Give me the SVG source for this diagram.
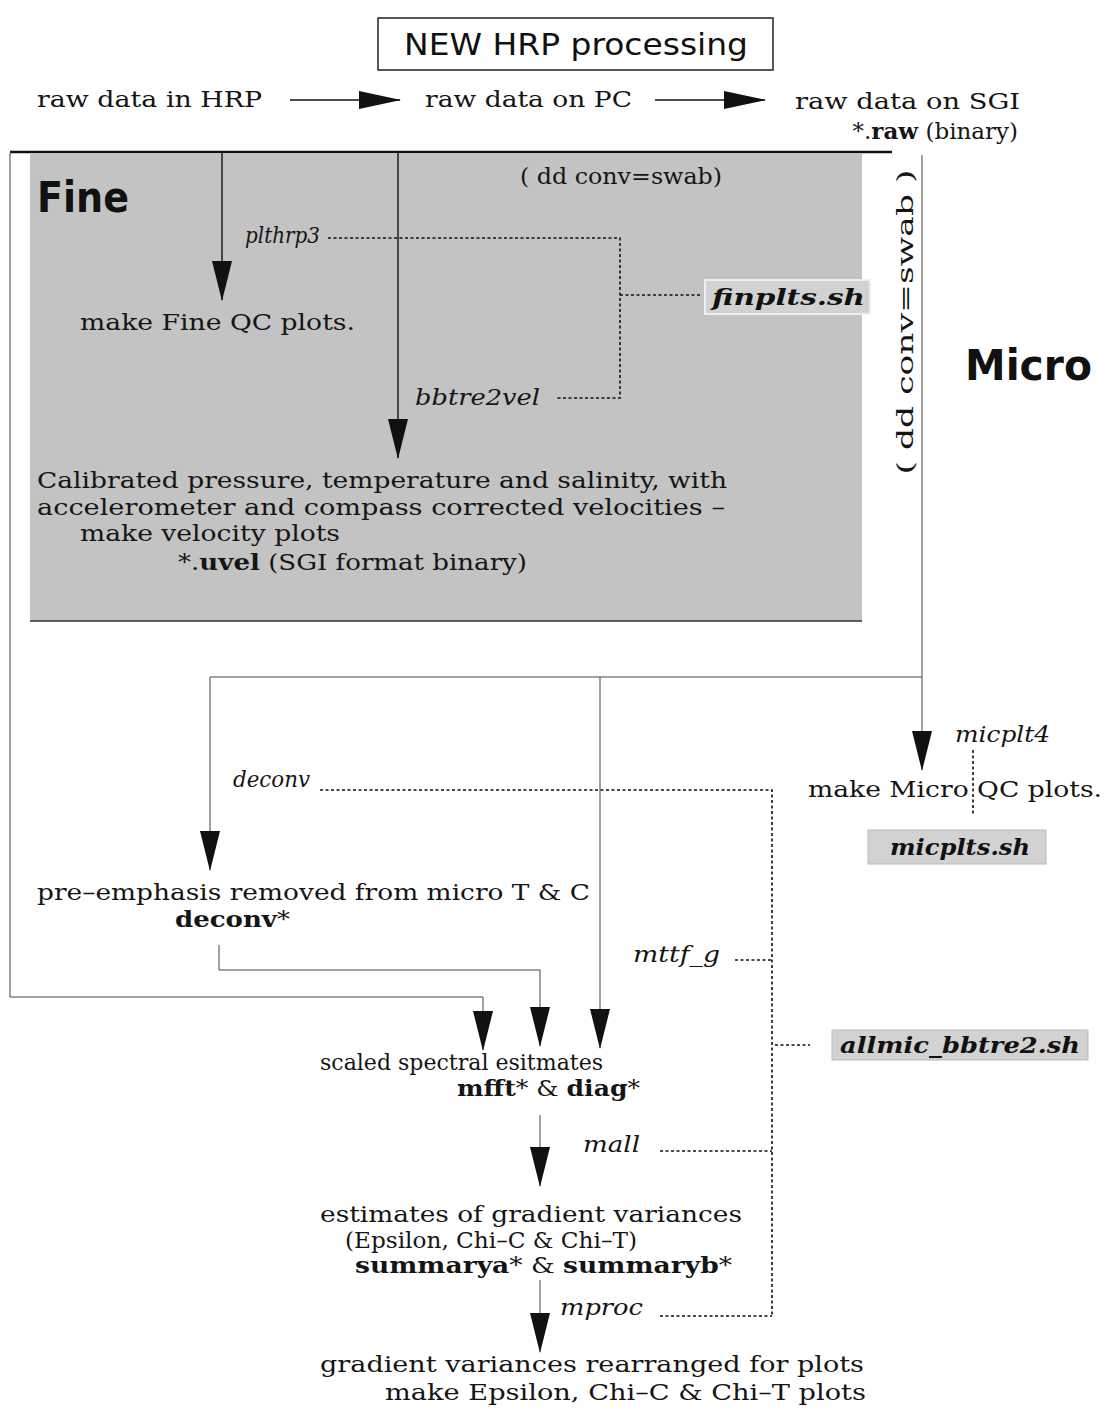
<svg xmlns="http://www.w3.org/2000/svg" width="1107" height="1410" viewBox="0 0 1107 1410">
<defs>
<style>
.t{font-family:"DejaVu Serif","Liberation Serif",serif;font-size:23px;fill:#151515}
.i{font-family:"DejaVu Serif","Liberation Serif",serif;font-size:22px;font-style:italic;fill:#151515}
.b{font-weight:bold}
.bi{font-family:"DejaVu Serif","Liberation Serif",serif;font-size:23px;font-style:italic;font-weight:bold;fill:#111}
.h{font-family:"DejaVu Sans","Liberation Sans",sans-serif;font-weight:bold;fill:#111}
.ln{stroke:#111;stroke-width:1.4;fill:none}
.thin{stroke:#444;stroke-width:1;fill:none}
.dot{stroke:#111;stroke-width:1.6;fill:none;stroke-dasharray:3 2.5}
.tag{fill:#d2d2d2;stroke:#eeeeee;stroke-width:2}
</style>
<marker id="ah" markerUnits="userSpaceOnUse" markerWidth="40" markerHeight="20" viewBox="0 0 40 20" refX="39" refY="10" orient="auto">
<path d="M0,0 L40,10 L0,20 Z" fill="#111"/>
</marker>
<marker id="ahr" markerUnits="userSpaceOnUse" markerWidth="42" markerHeight="18" viewBox="0 0 42 18" refX="41" refY="9" orient="auto">
<path d="M0,0 L42,9 L0,18 Z" fill="#111"/>
</marker>
</defs>
<rect width="1107" height="1410" fill="#ffffff"/>

<g id="fine-panel">
<rect x="30" y="154" width="832" height="467" fill="#c3c3c3"/>
<line x1="30" y1="621" x2="862" y2="621" stroke="#333" stroke-width="1.5"/>
<text class="h" x="37" y="212" font-size="42" textLength="92" lengthAdjust="spacingAndGlyphs">Fine</text>
</g>

<g id="title">
<rect x="378" y="18" width="395" height="52" fill="#fff" stroke="#222" stroke-width="1.5"/>
<text x="404" y="55" font-family="'DejaVu Sans','Liberation Sans',sans-serif" font-size="30" fill="#111" textLength="344" lengthAdjust="spacingAndGlyphs">NEW HRP processing</text>
</g>

<g id="raw-hrp"><text class="t" x="37" y="107" textLength="225" lengthAdjust="spacingAndGlyphs">raw data in HRP</text></g>
<g id="raw-pc"><text class="t" x="425" y="107" textLength="207" lengthAdjust="spacingAndGlyphs">raw data on PC</text></g>
<g id="raw-sgi">
<text class="t" x="795" y="109" textLength="225" lengthAdjust="spacingAndGlyphs">raw data on SGI</text>
<text class="t" x="1018" y="139" font-size="19" text-anchor="end">*.<tspan class="b">raw</tspan> (binary)</text>
</g>

<g id="swab-label"><text class="t" x="520" y="184" textLength="202" lengthAdjust="spacingAndGlyphs">( dd conv=swab)</text></g>
<g id="plthrp3"><text class="i" x="245" y="243" textLength="75" lengthAdjust="spacingAndGlyphs">plthrp3</text></g>
<g id="finplts">
<rect class="tag" x="705" y="280" width="165" height="34"/>
<text class="bi" x="712" y="305" textLength="153" lengthAdjust="spacingAndGlyphs">finplts.sh</text>
</g>
<g id="fine-qc"><text class="t" x="80" y="330" textLength="275" lengthAdjust="spacingAndGlyphs">make Fine QC plots.</text></g>
<g id="bbtre2vel"><text class="i" x="415" y="405" textLength="125" lengthAdjust="spacingAndGlyphs">bbtre2vel</text></g>
<g id="calibrated">
<text class="t" x="37" y="488" textLength="690" lengthAdjust="spacingAndGlyphs">Calibrated pressure, temperature and salinity, with</text>
<text class="t" x="37" y="515" textLength="688" lengthAdjust="spacingAndGlyphs">accelerometer and compass corrected velocities –</text>
<text class="t" x="80" y="541" textLength="260" lengthAdjust="spacingAndGlyphs">make velocity plots</text>
<text class="t" x="178" y="570" textLength="349" lengthAdjust="spacingAndGlyphs">*.<tspan class="b">uvel</tspan> (SGI format binary)</text>
</g>

<g id="swab-vertical"><text class="t" transform="translate(913,322) rotate(-90)" text-anchor="middle" textLength="305" lengthAdjust="spacingAndGlyphs">( dd conv=swab )</text></g>
<g id="micro-title"><text class="h" x="965" y="380" font-size="42" textLength="127" lengthAdjust="spacingAndGlyphs">Micro</text></g>

<g id="micplt4"><text class="i" x="955" y="742" textLength="95" lengthAdjust="spacingAndGlyphs">micplt4</text></g>
<g id="micro-qc"><text class="t" x="808" y="797" textLength="294" lengthAdjust="spacingAndGlyphs">make Micro QC plots.</text></g>
<g id="micplts">
<rect class="tag" x="868" y="830" width="178" height="34" style="stroke:#bbb;stroke-width:1"/>
<text class="bi" x="890" y="855" textLength="140" lengthAdjust="spacingAndGlyphs">micplts.sh</text>
</g>
<g id="deconv-label"><text class="i" x="233" y="787" textLength="77" lengthAdjust="spacingAndGlyphs">deconv</text></g>
<g id="preemphasis">
<text class="t" x="37" y="900" textLength="553" lengthAdjust="spacingAndGlyphs">pre–emphasis removed from micro T &amp; C</text>
<text class="t" x="175" y="927" textLength="115" lengthAdjust="spacingAndGlyphs"><tspan class="b">deconv</tspan>*</text>
</g>
<g id="mttf_g"><text class="i" x="633" y="962" textLength="87" lengthAdjust="spacingAndGlyphs">mttf_g</text></g>
<g id="allmic">
<rect class="tag" x="832" y="1030" width="256" height="30" style="stroke:#bbb;stroke-width:1"/>
<text class="bi" x="840" y="1053" textLength="240" lengthAdjust="spacingAndGlyphs">allmic_bbtre2.sh</text>
</g>
<g id="spectral">
<text class="t" x="320" y="1070" textLength="283" lengthAdjust="spacingAndGlyphs">scaled spectral esitmates</text>
<text class="t" x="457" y="1096" textLength="183" lengthAdjust="spacingAndGlyphs"><tspan class="b">mfft</tspan>* &amp; <tspan class="b">diag</tspan>*</text>
</g>
<g id="mall"><text class="i" x="583" y="1152" textLength="57" lengthAdjust="spacingAndGlyphs">mall</text></g>
<g id="gradient-est">
<text class="t" x="320" y="1222" textLength="422" lengthAdjust="spacingAndGlyphs">estimates of gradient variances</text>
<text class="t" x="345" y="1248" textLength="292" lengthAdjust="spacingAndGlyphs">(Epsilon, Chi–C &amp; Chi–T)</text>
<text class="t" x="355" y="1273" textLength="377" lengthAdjust="spacingAndGlyphs"><tspan class="b">summarya</tspan>* &amp; <tspan class="b">summaryb</tspan>*</text>
</g>
<g id="mproc"><text class="i" x="560" y="1315" textLength="83" lengthAdjust="spacingAndGlyphs">mproc</text></g>
<g id="gradient-plots">
<text class="t" x="320" y="1372" textLength="544" lengthAdjust="spacingAndGlyphs">gradient variances rearranged for plots</text>
<text class="t" x="385" y="1400" textLength="481" lengthAdjust="spacingAndGlyphs">make Epsilon, Chi–C &amp; Chi–T plots</text>
</g>

<g id="connectors">
<line class="ln" x1="290" y1="100" x2="400" y2="100" stroke-width="2" marker-end="url(#ahr)"/>
<line class="ln" x1="655" y1="100" x2="765" y2="100" stroke-width="2" marker-end="url(#ahr)"/>
<line x1="10" y1="152" x2="892" y2="152" stroke="#111" stroke-width="2.5"/>
<line class="ln" x1="222" y1="153" x2="222" y2="300" stroke-width="2" marker-end="url(#ah)"/>
<line class="ln" x1="398" y1="153" x2="398" y2="458" marker-end="url(#ah)"/>
<polyline class="dot" points="328,238 620,238 620,398 555,398"/>
<line class="dot" x1="620" y1="295" x2="700" y2="295"/>
<polyline class="thin" points="10,153 10,997 483,997 483,1050" marker-end="url(#ah)"/>
<line class="thin" x1="922" y1="155" x2="922" y2="770" marker-end="url(#ah)"/>
<polyline class="thin" points="922,677 210,677 210,870" marker-end="url(#ah)"/>
<line class="thin" x1="600" y1="677" x2="600" y2="1048" marker-end="url(#ah)"/>
<line class="dot" x1="973" y1="750" x2="973" y2="815"/>
<polyline class="dot" points="320,790 772,790 772,1316"/>
<line class="dot" x1="735" y1="960" x2="772" y2="960"/>
<line class="dot" x1="775" y1="1045" x2="810" y2="1045"/>
<line class="dot" x1="660" y1="1151" x2="772" y2="1151"/>
<line class="dot" x1="660" y1="1316" x2="772" y2="1316"/>
<polyline class="thin" points="219,945 219,970 540,970 540,1046" marker-end="url(#ah)"/>
<line class="thin" x1="540" y1="1115" x2="540" y2="1186" marker-end="url(#ah)"/>
<line class="thin" x1="540" y1="1280" x2="540" y2="1352" marker-end="url(#ah)"/>
</g>
</svg>
